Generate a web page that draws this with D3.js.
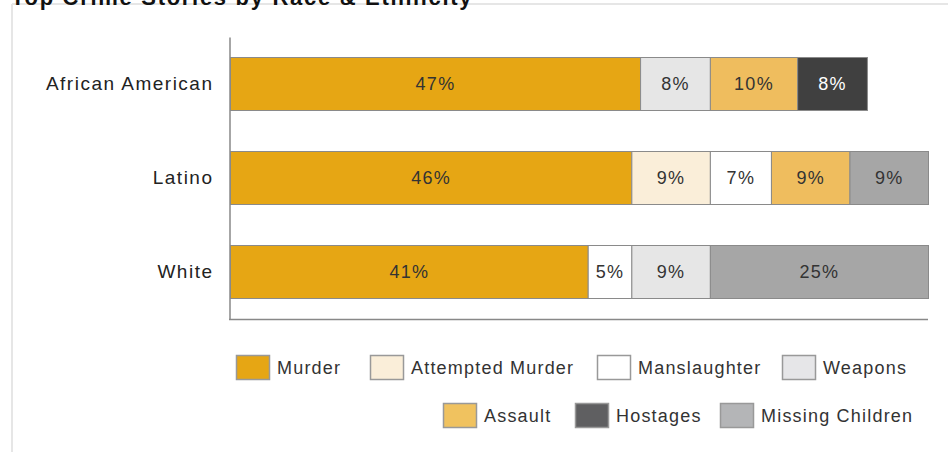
<!DOCTYPE html>
<html>
<head>
<meta charset="utf-8">
<script src="https://cdn.jsdelivr.net/npm/d3@7"></script>
<style>
  html, body { margin: 0; padding: 0; background: #fff; }
  svg { display: block; font-family: "Liberation Sans", Arial, sans-serif; }
</style>
</head>
<body>
<svg id="chart" width="948" height="452"></svg>
<script>
// ---- data ----
const title = "Top Crime Stories by Race & Ethnicity";
const categories = ["African American", "Latino", "White"];
const seriesNames = ["Murder", "Attempted Murder", "Manslaughter", "Weapons", "Assault", "Hostages", "Missing Children"];
const murder          = [47, 46, 41];
const attemptedMurder = [0, 9, 0];
const manslaughter    = [0, 7, 5];
const weapons         = [8, 0, 9];
const assault         = [10, 9, 0];
const hostages        = [8, 0, 0];
const missingChildren = [0, 9, 25];
const seriesValues = [murder, attemptedMurder, manslaughter, weapons, assault, hostages, missingChildren];

// ---- styles ----
const barColors    = ["#e6a614", "#faeed9", "#ffffff", "#e6e6e6", "#efbd5e", "#404040", "#a6a6a6"];
const legendColors = ["#e6a614", "#faeed9", "#ffffff", "#e6e6e8", "#f0c25f", "#5f5f61", "#b4b5b7"];
const labelColors  = ["#333", "#333", "#333", "#333", "#333", "#fff", "#333"];

const svg = d3.select("#chart");

// frame + title
svg.append("line").attr("x1", 12).attr("x2", 948).attr("y1", 4).attr("y2", 4)
  .attr("stroke", "#e6e6e6").attr("stroke-width", 2);
svg.append("line").attr("x1", 12).attr("x2", 12).attr("y1", 4).attr("y2", 452)
  .attr("stroke", "#e6e6e6").attr("stroke-width", 2);
svg.append("text").attr("x", 11).attr("y", 5)
  .attr("font-size", 22).attr("font-weight", "bold").attr("fill", "#111")
  .attr("letter-spacing", 1.7)
  .text(title);

// table for stacking
const table = categories.map((c, i) => {
  const row = { category: c };
  seriesNames.forEach((s, j) => row[s] = seriesValues[j][i]);
  return row;
});
const stacked = d3.stack().keys(seriesNames)(table);

const x = d3.scaleLinear().domain([0, 80]).range([230, 928]);
const y = d3.scaleBand().domain(categories).range([37, 319]).paddingInner(0.436).paddingOuter(0.218);

// bars
const groups = svg.append("g").selectAll("g").data(stacked).join("g")
  .attr("fill", (d, i) => barColors[i]);
groups.each(function(layer, i) {
  const g = d3.select(this);
  const segs = layer.filter(d => d[1] - d[0] > 0);
  g.selectAll("rect").data(segs).join("rect")
    .attr("x", d => x(d[0]) + 0.5)
    .attr("y", d => Math.round(y(d.data.category)) + 0.5)
    .attr("width", d => x(d[1]) - x(d[0]))
    .attr("height", Math.round(y.bandwidth()))
    .attr("stroke", "#8a8a8a").attr("stroke-width", 1);
  g.selectAll("text").data(segs).join("text")
    .attr("x", d => (x(d[0]) + x(d[1])) / 2 + 0.5)
    .attr("y", d => y(d.data.category) + y.bandwidth() / 2)
    .attr("dy", "0.35em")
    .attr("text-anchor", "middle")
    .attr("font-size", 18).attr("letter-spacing", 1.3)
    .attr("fill", labelColors[i])
    .text(d => (d[1] - d[0]) + "%");
});

// axes
const yAxis = d3.axisLeft(y).tickSize(0).tickPadding(16);
const ya = svg.append("g").attr("transform", "translate(229.5,0)").call(yAxis);
ya.select(".domain").attr("stroke", "#888").attr("stroke-width", 1.5);
ya.selectAll("text").attr("font-size", 19).attr("fill", "#222")
  .attr("letter-spacing", 1.5).attr("font-family", "Liberation Sans, Arial, sans-serif");

const xAxis = d3.axisBottom(x).tickValues([]).tickSize(0).tickSizeOuter(0);
const xa = svg.append("g").attr("transform", "translate(0,319.5)").call(xAxis);
xa.select(".domain").attr("stroke", "#888").attr("stroke-width", 1.5)
  .attr("d", `M229,0H${x(80)}`);

// legend
const legendPos = [[236, 355], [370, 355], [597, 355], [782, 355], [443, 403], [575, 403], [720, 403]];
const legend = svg.append("g").selectAll("g").data(seriesNames).join("g")
  .attr("transform", (d, i) => `translate(${legendPos[i][0]},${legendPos[i][1]})`);
legend.append("rect").attr("x", 0.5).attr("y", 0.5).attr("width", 33).attr("height", 24)
  .attr("fill", (d, i) => legendColors[i]).attr("stroke", "#999").attr("stroke-width", 1.5);
legend.append("text").attr("x", 41).attr("y", 12.5).attr("dy", "0.35em")
  .attr("font-size", 18).attr("letter-spacing", 1.2).attr("fill", "#333")
  .text(d => d);
</script>
</body>
</html>
